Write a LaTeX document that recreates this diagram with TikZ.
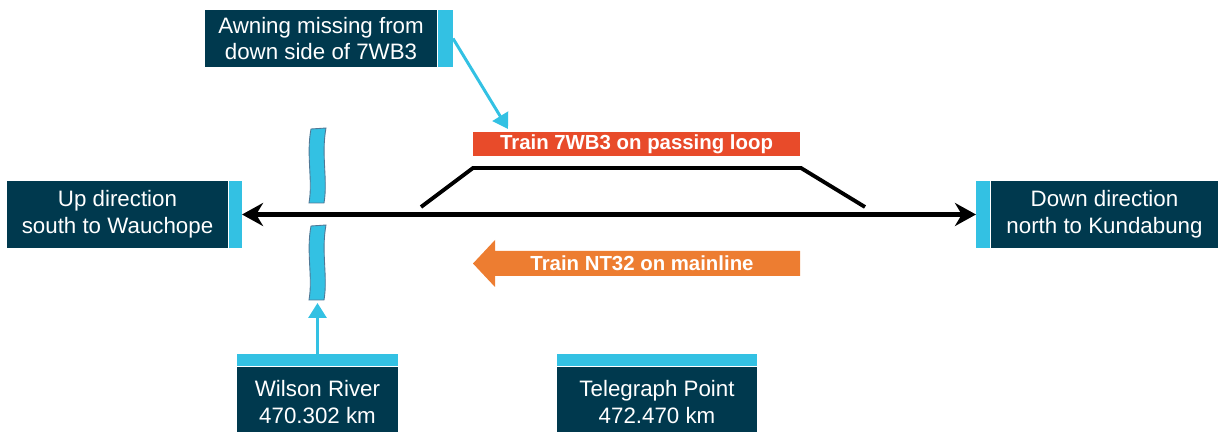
\documentclass[tikz,border=0pt]{standalone}
\usepackage{fontspec}
\setmainfont{Liberation Sans}
\usetikzlibrary{positioning,arrows.meta}
\definecolor{deepnavy}{RGB}{0,57,78}
\definecolor{skyblue}{RGB}{51,193,227}
\definecolor{loopred}{RGB}{232,75,42}
\definecolor{mainorange}{RGB}{237,125,49}
\definecolor{riveredge}{RGB}{80,120,150}
\tikzset{
  infobox/.style={fill=deepnavy, text=white, align=center, inner sep=0pt, font=\fontsize{12.7}{15.3}\selectfont},
  strip/.style={fill=skyblue, inner sep=0pt},
  trainlabel/.style={text=white, inner sep=0pt, font=\bfseries\fontsize{11.6}{14}\selectfont},
  track/.style={line width=2.2pt},
  pointer/.style={draw=skyblue, line width=1.7pt, -{Triangle[length=0.3cm,width=0.36cm]}},
  river/.style={fill=skyblue, draw=riveredge, line width=0.5pt},
}
\begin{document}
\begin{tikzpicture}[x=0.02cm, y=-0.02cm]
\useasboundingbox (0,0) rectangle (1218,432);
% direction boxes
\node[infobox, minimum width=4.42cm, minimum height=1.34cm] (updir) at (117.5,214.5) {Up direction\\south to Wauchope};
\node[strip, minimum width=0.26cm, minimum height=1.34cm, right=0pt of updir] (upstrip) {};
\node[infobox, minimum width=4.54cm, minimum height=1.34cm] (downdir) at (1104.5,214.5) {Down direction\\north to Kundabung};
\node[strip, minimum width=0.28cm, minimum height=1.34cm, left=0pt of downdir] (downstrip) {};
\draw[line width=2.8pt, {Stealth[length=0.42cm,width=0.46cm]}-{Stealth[length=0.42cm,width=0.46cm]}] (upstrip) -- (downstrip);
% passing loop
\node[trainlabel, fill=loopred, minimum width=6.54cm, minimum height=0.48cm] (loopbar) at (636.5,144) {Train 7WB3 on passing loop};
\coordinate (loopsw) at (421,207);
\coordinate (loopnw) at (473,168);
\coordinate (loopne) at (801,168);
\coordinate (loopse) at (865,207);
\draw[track] (loopsw) -- (loopnw) -- (loopne) -- (loopse);
% awning note
\node[infobox, minimum width=4.64cm, minimum height=1.14cm] (awning) at (321,38.5) {Awning missing from\\down side of 7WB3};
\node[strip, minimum width=0.3cm, minimum height=1.14cm, right=0pt of awning] (awnstrip) {};
\coordinate (awntip) at (508,129);
\draw[pointer] (awnstrip.east) -- (awntip);
% mainline train
\fill[mainorange] (800,251) -- (495,251) -- (495,240) -- (473,263.5) -- (495,287) -- (495,276) -- (800,276) -- cycle;
\node[trainlabel] (mainbar) at (642,263.5) {Train NT32 on mainline};
% river
\foreach \dy in {0,97}
  \path[river, shift={(0,\dy)}] (311,129) -- (326,128) .. controls (321,155) and (328,180) .. (324,203) -- (309,203) .. controls (313,180) and (306,155) .. (311,129) -- cycle;
% locations
\node[infobox, minimum width=3.22cm, minimum height=1.4cm] (wilson) at (317.5,402) {Wilson River\\470.302 km};
\node[strip, minimum width=3.22cm, minimum height=0.24cm, above=0pt of wilson] (wilstrip) {};
\node[infobox, minimum width=4cm, minimum height=1.4cm] (telegraph) at (657,402) {Telegraph Point\\472.470 km};
\node[strip, minimum width=4cm, minimum height=0.24cm, above=0pt of telegraph] (telstrip) {};
\coordinate (rivertip) at (317.5,303);
\draw[pointer] (wilstrip) -- (rivertip);
\end{tikzpicture}
\end{document}
